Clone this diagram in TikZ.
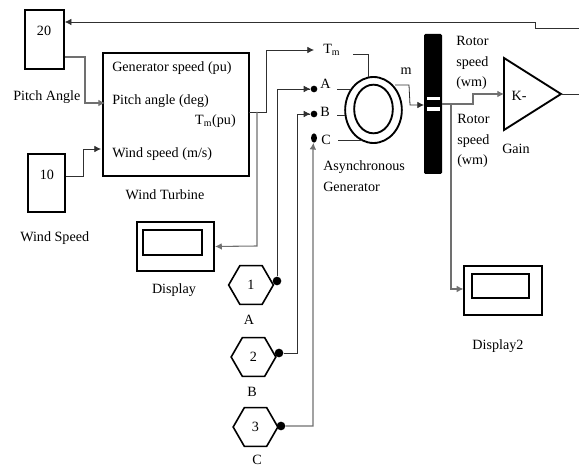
\documentclass[tikz,border=0pt]{standalone}
\usepackage{fontspec}
\setmainfont{Liberation Serif}
\usetikzlibrary{calc,arrows.meta,positioning,shapes.geometric}
\definecolor{wirec}{HTML}{303030}
\definecolor{wiregr}{HTML}{707070}
\tikzset{
  ar/.style={-{Latex[length=5pt,width=5pt]}},
  wire/.style={draw=wirec,line width=0.6pt},
  wireg/.style={draw=wiregr,line width=0.8pt},
  blk/.style={draw,line width=1.4pt,inner sep=0pt},
  lbl/.style={font=\fontsize{10.6}{12}\selectfont,inner sep=0pt},
  hexa/.style={regular polygon,regular polygon sides=6,draw,line width=1.2pt,minimum size=33.5pt,inner sep=0pt,font=\fontsize{10.6}{12}\selectfont},
  dot/.style={circle,fill=black,minimum size=6.5pt,inner sep=0pt}
}
\begin{document}
\begin{tikzpicture}[x=0.75pt,y=-0.75pt]
\useasboundingbox (0,0) rectangle (579,466);
% source blocks
\node[blk,minimum width=29pt,minimum height=44pt,lbl] (pitchbox) at (44.5,39.5) {};
\node[lbl] at (44,31) {20};
\node[blk,minimum width=28pt,minimum height=44pt] (windbox) at (46.5,183) {};
\node[lbl] at (47,175) {10};
\node[lbl,anchor=west] (pitchlbl) at (13,97) {Pitch Angle};
\node[lbl,anchor=west] (windlbl) at (20,238) {Wind Speed};
% turbine
\node[blk,minimum width=109.5pt,minimum height=92pt] (turbine) at (176,114.5) {};
\node[lbl,anchor=west] (genspeed) at (112,68) {Generator speed (pu)};
\node[lbl,anchor=west] (pitchin) at (112,101) {Pitch angle (deg)};
\node[lbl,anchor=east] (tmout) at (236,121) {T\textsubscript{m}(pu)};
\node[lbl,anchor=west] (windin) at (112,154) {Wind speed (m/s)};
\node[lbl] (turbinelbl) at (165,195) {Wind Turbine};
% displays
\node[blk,minimum width=58pt,minimum height=37pt] (disp) at (175.5,246.5) {};
\node[blk,line width=1.1pt,minimum width=44pt,minimum height=18.5pt] (dispin) at (172.5,242.5) {};
\node[lbl] (displbl) at (174,290) {Display};
\node[blk,minimum width=58pt,minimum height=37pt] (dispb) at (503,290.5) {};
\node[blk,line width=1.1pt,minimum width=43pt,minimum height=18pt] (dispbin) at (500.5,286) {};
\node[lbl] (dispblbl) at (498,346) {Display2};
% phase inputs
\node[hexa] (hexa) at (251,285) {1};
\node[hexa] (hexb) at (253.5,357) {2};
\node[hexa] (hexc) at (255.5,427) {3};
\node[dot] (dota) at (277,281) {};
\node[dot] (dotb) at (279,353) {};
\node[dot] (dotc) at (281,426) {};
\node[lbl] (lbla) at (249,320) {A};
\node[lbl] (lblb) at (252,392) {B};
\node[lbl] (lblc) at (257,460) {C};
% generator
\node[draw,ellipse,line width=1.4pt,minimum width=42.5pt,minimum height=49.5pt,inner sep=0pt] (genout) at (373.5,110) {};
\node[draw,ellipse,line width=1.4pt,minimum width=29pt,minimum height=36.5pt,inner sep=0pt] (genin) at (373.5,109) {};
\node[lbl,anchor=west] (portm) at (323,50) {T\textsubscript{m}};
\node[lbl,anchor=west] (porta) at (320,84) {A};
\node[lbl,anchor=west] (portb) at (320,112) {B};
\node[lbl,anchor=west] (portc) at (321,140) {C};
\node[dot,minimum size=5pt] (pa) at (314,89) {};
\node[dot,minimum size=5pt] (pb) at (314,114) {};
\node[dot,ellipse,minimum width=4.5pt,minimum height=7pt] (pc) at (314,138) {};
\node[lbl,anchor=west,align=left] (genlbl) at (323,176.5) {Asynchronous\\[3.5pt]Generator};
\node[lbl] (mlbl) at (406,71) {m};
% bus
\node[fill=black,rounded corners=1pt,minimum width=13.5pt,minimum height=105pt,inner sep=0pt] (bus) at (433,104) {};
\fill[white] (427,97.5) rectangle (440,100.5);
\fill[white] (427,107) rectangle (440,111);
% rotor labels and gain
\node[lbl,anchor=west,align=left] (rotora) at (456,63) {Rotor\\[3.5pt]speed\\[3.5pt](wm)};
\node[lbl,anchor=west,align=left] (rotorb) at (457,141) {Rotor\\[3.5pt]speed\\[3.5pt](wm)};
\coordinate (ga) at (504,58);
\coordinate (gb) at (561,94);
\coordinate (gc) at (504,130);
\draw[line width=1.4pt,line join=miter] (ga) -- (gb) -- (gc) -- cycle;
\node[lbl] (gaink) at (519,96) {K-};
\node[lbl] (gainlbl) at (516,149) {Gain};
% connectors
\coordinate (fbend) at (579,28);
\coordinate (tbpitch) at (105,103);
\coordinate (tbwind) at (101,149);
\coordinate (tbout) at (249,112);
\coordinate (tmtip) at (314,50);
\coordinate (gaintip) at (504,94);
\coordinate (busout) at (442,104);
\coordinate (mtip) at (424,105);
\coordinate (gainend) at (579,94);
\draw[wire,ar] (fbend) -- (535,28) -- (535,22) -- (pitchbox.east |- 0,22);
\draw[wireg,ar] (pitchbox.east |- 0,57) -- (85,57) -- (85,103) -- (tbpitch);
\draw[wire,ar] (windbox.east |- 0,176) -- (83,176) -- (83,149) -- (tbwind);
\draw[wire,ar] (tbout) -- (266,112) -- (266,50) -- (tmtip);
\draw[wireg,ar] (257,112) -- (257,246) -- (disp.east);
\draw[wire] (dota) -- (277,89) -- (pa);
\draw[wire] (dotb) -- (297,353) -- (297,114) -- (pb);
\draw[wireg,ar] (dotc) -- (313,426) -- (313,148) -- (pc);
\draw[wire,ar] (302,89) -- (pa.west);
\draw[wire,ar] (302,114) -- (pb.west);
\draw[wire] (353,54) -- (368,54) -- (368,77);
\draw[wire] (337,89) -- (350,89);
\draw[wire] (337,115) -- (345,115);
\draw[wire] (338,140) -- (362,140);
\draw[wire,ar] (395,85) -- (409,85) -- (410,105) -- (mtip);
\draw[wireg,ar] (busout) -- (473,104) -- (473,94) -- (gaintip);
\draw[wireg,ar] (451,104) -- (451,289) -- (dispb.west |- 0,289);
\draw[wire] (gb) -- (gainend);
\end{tikzpicture}
\end{document}
